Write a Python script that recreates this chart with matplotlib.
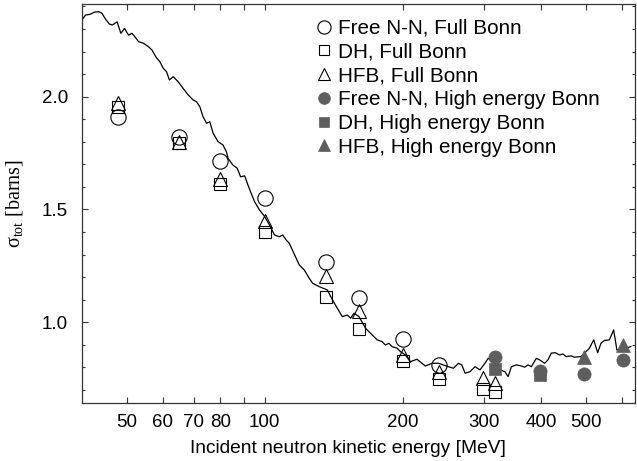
import matplotlib
matplotlib.use("Agg")
import matplotlib.pyplot as plt
from matplotlib.lines import Line2D
from matplotlib.ticker import FixedLocator, NullLocator, MultipleLocator

# ---------------- data ----------------
# theoretical / experimental curve (E in MeV, sigma in barns)
curve_E = [40.0, 40.7, 41.6, 42.6, 43.5, 44.2, 45.0, 45.9, 46.6, 47.7, 48.6, 49.5,
           50.5, 51.4, 52.0, 53.1, 54.4, 55.8, 56.8, 58.0, 59.1, 60.1, 61.1, 62.0,
           63.2, 64.8, 66.4, 68.1, 69.9, 71.0, 72.2, 73.4, 74.7, 75.9, 77.2, 79.1,
           81.1, 82.5, 83.2, 85.2, 87.1, 88.6, 90.4, 91.9, 93.4, 95.0, 97.4, 100.0,
           102.4, 105.0, 107.6, 109.4, 111.3, 113.1, 114.4, 118.9, 121.9, 125.0,
           127.1, 131.4, 136.9, 140.4, 143.9, 147.5, 151.3, 153.8, 156.4, 160.4,
           165.8, 170.0, 175.7, 180.1, 183.2, 186.3, 189.3, 194.2, 197.4, 202.4,
           207.5, 214.5, 223.7, 231.2, 239.0, 251.2, 257.5, 264.1, 268.5, 273.1,
           279.9, 287.0, 294.2, 301.6, 306.6, 314.6, 325.1, 333.3, 338.8, 344.4,
           353.2, 362.2, 368.3, 374.4, 380.6, 390.2, 396.9, 406.9, 413.6, 420.5,
           429.0, 438.5, 445.8, 453.2, 464.6, 472.6, 488.4, 500.7, 509.3, 520.3,
           530.8, 539.6, 548.9, 562.8, 575.0, 584.5, 598.4, 611.3, 626.8]
curve_sigma = [2.340, 2.362, 2.365, 2.375, 2.377, 2.370, 2.344, 2.322, 2.318, 2.332, 2.281, 2.303,
               2.273, 2.281, 2.269, 2.244, 2.237, 2.222, 2.207, 2.175, 2.155, 2.126, 2.111, 2.074,
               2.089, 2.066, 2.037, 2.008, 1.985, 1.978, 1.956, 1.911, 1.882, 1.889, 1.838, 1.801,
               1.786, 1.756, 1.727, 1.697, 1.683, 1.645, 1.649, 1.609, 1.572, 1.535, 1.498, 1.468,
               1.431, 1.387, 1.379, 1.387, 1.365, 1.350, 1.328, 1.254, 1.232, 1.195,
               1.173, 1.158, 1.143, 1.099, 1.062, 1.025, 1.032, 1.018, 1.040, 1.025,
               0.973, 0.951, 0.922, 0.914, 0.899, 0.907, 0.892, 0.885, 0.870, 0.855,
               0.825, 0.836, 0.806, 0.818, 0.818, 0.803, 0.796, 0.818, 0.811, 0.774,
               0.781, 0.803, 0.789, 0.818, 0.840, 0.825, 0.789, 0.781, 0.759, 0.803,
               0.811, 0.806, 0.801, 0.811, 0.803, 0.840, 0.833, 0.818, 0.833, 0.863,
               0.865, 0.855, 0.859, 0.848, 0.851, 0.845, 0.848, 0.870, 0.885, 0.922,
               0.865, 0.907, 0.919, 0.922, 0.966, 0.877, 0.880, 0.885, 0.892]

# Full Bonn potential
free_full_E = [48, 65, 80, 100, 136, 160, 200, 239]
free_full_sigma = [1.910, 1.820, 1.715, 1.550, 1.269, 1.109, 0.927, 0.811]

dh_full_E = [48, 65, 80, 100, 136, 160, 200, 239, 298, 317]
dh_full_sigma = [1.955, 1.795, 1.614, 1.400, 1.110, 0.970, 0.830, 0.750, 0.702, 0.692]

hfb_full_E = [48, 65, 80, 100, 136, 160, 200, 239, 298, 317]
hfb_full_sigma = [1.970, 1.800, 1.635, 1.450, 1.207, 1.050, 0.855, 0.781, 0.752, 0.731]

# High energy Bonn potential
free_he_E = [317, 397, 495, 604]
free_he_sigma = [0.847, 0.783, 0.770, 0.833]

dh_he_E = [317, 397]
dh_he_sigma = [0.791, 0.766]

hfb_he_E = [495, 604]
hfb_he_sigma = [0.847, 0.899]

legend_labels = ["Free N-N, Full Bonn", "DH, Full Bonn", "HFB, Full Bonn",
                 "Free N-N, High energy Bonn", "DH, High energy Bonn",
                 "HFB, High energy Bonn"]

xtick_values = [50, 60, 70, 80, 90, 100, 200, 300, 400, 500, 600]
xtick_labels = ["50", "60", "70", "80", "", "100", "200", "300", "400", "500", ""]
ytick_values = [1.0, 1.5, 2.0]
ytick_labels = ["1.0", "1.5", "2.0"]

x_label = "Incident neutron kinetic energy [MeV]"
y_label = "σ$_{\\rm tot}$ [barns]"

# ---------------- plot ----------------
plt.rcParams["font.family"] = ["Liberation Sans", "DejaVu Sans"]
plt.rcParams["mathtext.fontset"] = "custom"
plt.rcParams["mathtext.rm"] = "Liberation Serif"
plt.rcParams["mathtext.it"] = "Liberation Serif:italic"

W, H = 637, 461
fig = plt.figure(figsize=(W / 100, H / 100), dpi=100)
ax = fig.add_axes([82 / W, 1 - 403 / H, (635 - 82) / W, (403 - 4) / H])

ax.plot(curve_E, curve_sigma, color="black", lw=0.9, zorder=2)

gray = "#5e5e5e"
ax.plot(free_full_E, free_full_sigma, ls="none", marker="o", ms=11,
        mfc="none", mec="black", mew=0.8, zorder=3)
ax.plot(dh_full_E, dh_full_sigma, ls="none", marker="s", ms=8.5,
        mfc="none", mec="black", mew=0.8, zorder=3)
ax.plot(hfb_full_E, hfb_full_sigma, ls="none", marker="^", ms=10,
        mfc="none", mec="black", mew=0.8, zorder=3)
ax.plot(free_he_E, free_he_sigma, ls="none", marker="o", ms=9.5,
        mfc=gray, mec=gray, mew=0.5, zorder=4)
ax.plot(dh_he_E, dh_he_sigma, ls="none", marker="s", ms=8,
        mfc=gray, mec=gray, mew=0.5, zorder=4)
ax.plot(hfb_he_E, hfb_he_sigma, ls="none", marker="^", ms=9.5,
        mfc=gray, mec=gray, mew=0.5, zorder=4)

# legend proxies (sizes as in the reference legend)
handles = [
    Line2D([], [], ls="none", marker="o", ms=9.5, mfc="none", mec="black", mew=0.8),
    Line2D([], [], ls="none", marker="s", ms=6.5, mfc="none", mec="black", mew=0.8),
    Line2D([], [], ls="none", marker="^", ms=9, mfc="none", mec="black", mew=0.8),
    Line2D([], [], ls="none", marker="o", ms=8.5, mfc=gray, mec=gray, mew=0.5),
    Line2D([], [], ls="none", marker="s", ms=7, mfc=gray, mec=gray, mew=0.5),
    Line2D([], [], ls="none", marker="^", ms=8.5, mfc=gray, mec=gray, mew=0.5),
]

ax.set_xscale("log")
ax.set_xlim(40, 640)
ax.set_ylim(0.642, 2.411)

ax.xaxis.set_major_locator(FixedLocator(xtick_values))
ax.xaxis.set_minor_locator(NullLocator())
ax.set_xticklabels(xtick_labels)
ax.yaxis.set_major_locator(FixedLocator(ytick_values))
ax.set_yticklabels(ytick_labels)
ax.yaxis.set_minor_locator(MultipleLocator(0.1))

ax.tick_params(which="both", direction="in", top=True, right=True,
               color="#333333", width=0.8)
ax.tick_params(which="major", length=4)
ax.tick_params(which="minor", length=2.2)
ax.tick_params(axis="x", which="major", labelsize=13.5, pad=8)
ax.tick_params(axis="y", which="major", labelsize=13.5, pad=10)

for s in ax.spines.values():
    s.set_color("#333333")
    s.set_linewidth(0.9)

ax.set_xlabel(x_label, fontsize=13.8)
ax.xaxis.set_label_coords(0.48, -0.092)
ax.set_ylabel(y_label, fontsize=14.5, family=["Liberation Serif", "DejaVu Serif"])
ax.yaxis.set_label_coords(-0.103, 0.5)

ax.legend(handles, legend_labels, loc="upper left",
          bbox_to_anchor=(0.4255, 0.963), frameon=False, fontsize=14.9,
          borderpad=0, borderaxespad=0, handlelength=0.6, handletextpad=0.4,
          labelspacing=0.23)

fig.savefig("out.png", dpi=100)
